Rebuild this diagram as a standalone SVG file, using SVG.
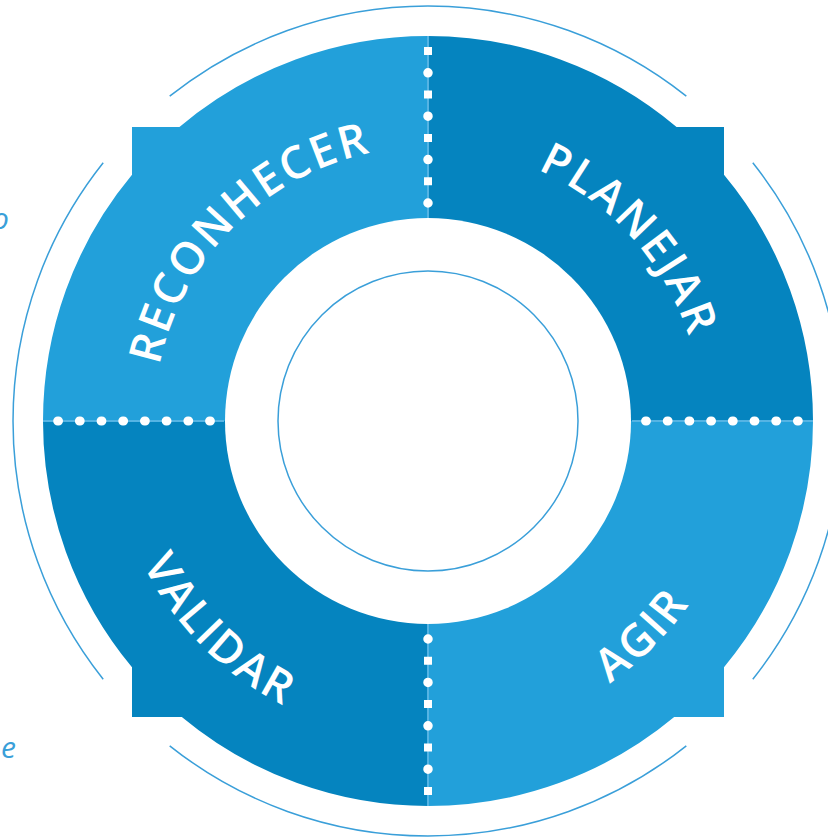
<svg xmlns="http://www.w3.org/2000/svg" width="828" height="838" viewBox="0 0 828 838">
<style>
.light{fill:#22a0da}
.dark{fill:#0584bf}
.thin{fill:none;stroke:#3a9fd9;stroke-width:1.5}
.lbl{font-family:"Open Sans","Liberation Sans",sans-serif;font-size:45px;font-weight:600;fill:#ffffff;letter-spacing:2.5px}
.frag{font-family:"Open Sans","Liberation Sans",sans-serif;font-size:30px;font-style:italic;fill:#3a9fd9}
.divline{stroke:#55b4e4;stroke-width:2}
.sq{stroke:#ffffff;stroke-width:8;stroke-dasharray:8 35.4;stroke-linecap:butt}
.rd{stroke:#ffffff;stroke-width:9.5;stroke-dasharray:0.01 43.39;stroke-linecap:round}
.rd2{stroke:#ffffff;stroke-width:9;stroke-dasharray:0.8 20.9;stroke-linecap:round}
</style>
<defs>
<path id="pTL" d="M203.5,578.2 A274,274 0 0 1 585.2,196.5"/>
<path id="pTR" d="M282.8,188.6 A274,274 0 0 1 643.9,589.7"/>
<path id="pBR" d="M245,682.3 A319,319 0 0 0 689.3,238"/>
<path id="pBL" d="M166.7,238 A319,319 0 0 0 611,682.3"/>
</defs>
<rect width="828" height="838" fill="#ffffff"/>
<g id="fragments">
<text class="frag" x="9" y="229" text-anchor="end">o</text>
<text class="frag" x="1" y="758">e</text>
</g>
<g id="outer-arcs" class="thin">
<path d="M169.7,96.2 A415,415 0 0 1 686.3,96.2"/>
<path d="M752.8,162.7 A415,415 0 0 1 752.8,679.3"/>
<path d="M686.3,745.8 A415,415 0 0 1 169.7,745.8"/>
<path d="M103.2,679.3 A415,415 0 0 1 103.2,162.7"/>
</g>
<g id="reconhecer">
<path class="light" d="M428,421 L43,421 A385,385 0 0 1 132,174.81 L132,127 L179.43,127 A385,385 0 0 1 428,36 Z"/>
<text class="lbl"><textPath href="#pTL" startOffset="50%" text-anchor="middle">RECONHECER</textPath></text>
</g>
<g id="planejar">
<path class="dark" d="M428,421 L428,36 A385,385 0 0 1 676.57,127 L724,127 L724,174.81 A385,385 0 0 1 813,421 Z"/>
<text class="lbl"><textPath href="#pTR" startOffset="50%" text-anchor="middle">PLANEJAR</textPath></text>
</g>
<g id="agir">
<path class="light" d="M428,421 L813,421 A385,385 0 0 1 724,667.19 L724,717 L674.19,717 A385,385 0 0 1 428,806 Z"/>
<text class="lbl"><textPath href="#pBR" startOffset="50%" text-anchor="middle">AGIR</textPath></text>
</g>
<g id="validar">
<path class="dark" d="M428,421 L428,806 A385,385 0 0 1 181.81,717 L132,717 L132,667.19 A385,385 0 0 1 43,421 Z"/>
<text class="lbl"><textPath href="#pBL" startOffset="50%" text-anchor="middle">VALIDAR</textPath></text>
</g>
<g id="connectors">
<line class="divline" x1="428" y1="222" x2="428" y2="36"/>
<line class="divline" x1="632" y1="421" x2="813" y2="421"/>
<line class="divline" x1="428" y1="620" x2="428" y2="806"/>
<line class="divline" x1="224" y1="421" x2="43" y2="421"/>
<line class="sq" x1="428" y1="185.3" x2="428" y2="45"/>
<line class="rd" x1="428" y1="203" x2="428" y2="45"/>
<line class="sq" x1="428" y1="656.7" x2="428" y2="797"/>
<line class="rd" x1="428" y1="639" x2="428" y2="797"/>
<line class="rd2" x1="645.6" y1="421" x2="804" y2="421"/>
<line class="rd2" x1="210.4" y1="421" x2="52" y2="421"/>
</g>
<g id="hub">
<circle cx="428" cy="421" r="203" fill="#ffffff"/>
<circle class="thin" cx="428" cy="421" r="150"/>
</g>
</svg>
